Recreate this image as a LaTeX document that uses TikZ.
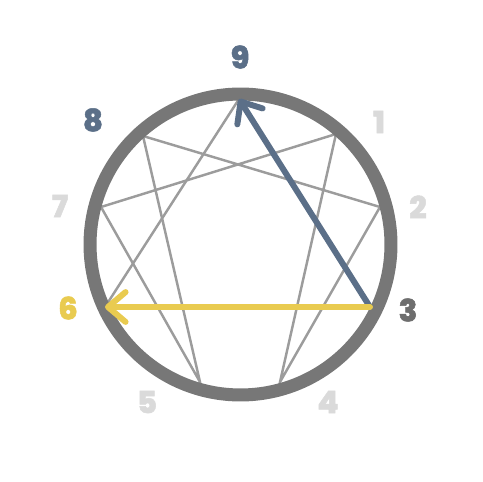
\documentclass[tikz,border=0pt]{standalone}
\usepackage{fontspec}
\newfontfamily\numfont{Poppins}[UprightFont=* ExtraBold, FakeBold=1.6]
\usetikzlibrary{arrows.meta}
\definecolor{ringgray}{HTML}{777777}
\definecolor{linegray}{HTML}{9C9C9C}
\definecolor{slate}{HTML}{5B6F88}
\definecolor{sun}{HTML}{E9CB50}
\definecolor{pale}{HTML}{DADADA}
\definecolor{dark}{HTML}{6E6E6E}
\tikzset{
    x=0.02cm,
    y=-0.02cm,
    num/.style = {
        font=\numfont\fontsize{17.5}{17.5}\selectfont,
        inner sep=0pt
    },
    star/.style = {
        draw=linegray,
        line width=1.4pt
    },
    ring/.style = {
        draw=ringgray,
        line width=7.4pt
    },
    move/.style = {
        line width=3.4pt,
        line cap=round,
        -{Straight Barb[length=10pt,width=17pt,round]}
    },
}

\begin{document}
\begin{tikzpicture}
        \useasboundingbox (0,0) rectangle (482,482);

        \coordinate (c) at (240.5,244.5);
        \coordinate (p9) at (239,99);
        \coordinate (p1) at (336,134);
        \coordinate (p2) at (380,207);
        \coordinate (p3) at (370,307);
        \coordinate (p4) at (280,382);
        \coordinate (p5) at (200,382);
        \coordinate (p6) at (105,307);
        \coordinate (p7) at (101,207);
        \coordinate (p8) at (143,136);

        \path[star] (p1) -- (p4) -- (p2) -- (p8) -- (p5) -- (p7) -- cycle;
        \path[star] (p9) -- (p6);

        \path[ring] (c) circle [radius=3.01cm];

        \path[draw=slate, move] (p3) -- (p9);
        \path[draw=sun, move] (p3) -- (p6);

        \node[num, text=slate] (n9) at (240,57) {9};
        \node[num, text=pale] (n1) at (379,122) {1};
        \node[num, text=pale] (n2) at (418,207) {2};
        \node[num, text=dark] (n3) at (408,310) {3};
        \node[num, text=pale] (n4) at (328,402) {4};
        \node[num, text=pale] (n5) at (147,402) {5};
        \node[num, text=sun] (n6) at (68,308) {6};
        \node[num, text=pale] (n7) at (60,206) {7};
        \node[num, text=slate] (n8) at (93,120) {8};
    \end{tikzpicture}
\end{document}
